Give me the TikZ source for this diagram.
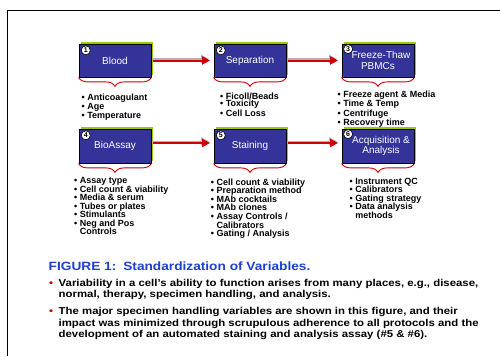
\documentclass[tikz,border=0pt]{standalone}
\usepackage{fontspec}
\setmainfont{Liberation Sans}
\newfontfamily\capfont[FakeStretch=1.14]{Liberation Sans}
\usetikzlibrary{arrows.meta,decorations.pathreplacing,shadows}
\definecolor{boxblue}{HTML}{333399}
\definecolor{limeshadow}{HTML}{99CC00}
\definecolor{arrred}{HTML}{D00000}
\definecolor{capblue}{HTML}{1F3FCF}
\tikzset{
  stagebox/.style={draw=black, line width=0.8pt, fill=boxblue, text=white,
    minimum width=72pt, minimum height=33pt, inner sep=0pt, align=center,
    font=\fontsize{10}{10.5}\selectfont,
    general shadow={fill=limeshadow, draw=none, shadow xshift=1.6pt, shadow yshift=1.6pt}},
  numcirc/.style={circle, draw=black, fill=white, line width=0.6pt, minimum size=9pt,
    inner sep=0pt, font=\bfseries\fontsize{7}{7}\selectfont},
  flow/.style={draw=arrred, line width=2pt, -{Triangle[length=8pt,width=8pt]}},
  flowshadow/.style={draw=gray!60, line width=2pt, -{Triangle[length=8pt,width=8pt]}},
  stagebrace/.style={draw=arrred, line width=0.9pt, decorate, decoration={brace, amplitude=9pt}},
  blist/.style={anchor=north west, inner sep=0pt, align=left, font=\bfseries\fontsize{9}{#1}\selectfont},
}
\newcommand{\bu}{\textbullet\hspace{2.5pt}}
\newcommand{\nb}{\phantom{\textbullet}\hspace{2.5pt}}
\begin{document}
\begin{tikzpicture}[x=1pt,y=-1pt]
\useasboundingbox (0,0) rectangle (500,356);
\fill[white] (0,0) rectangle (500,356);
% frame
\draw[line width=1pt] (500,10) -- (7,10) -- (7,356);
% boxes
\node[stagebox] (b1) at (115,60.5) {Blood};
\node[stagebox] (b2) at (250,60.5) {Separation};
\node[stagebox] (b3) at (378,60.5) {\hspace{6pt}Freeze-Thaw\\PBMCs};
\node[stagebox, minimum height=34pt] (b4) at (115,146) {BioAssay};
\node[stagebox, minimum height=34pt] (b5) at (250,146) {Staining};
\node[stagebox, minimum height=34pt] (b6) at (378,146) {\hspace{6pt}Acquisition \&\\\hspace{6pt}Analysis};
% number circles
\node[numcirc] (n1) at ([xshift=7.2pt,yshift=-6.7pt]b1.north west) {1};
\node[numcirc] (n2) at ([xshift=7.2pt,yshift=-6.7pt]b2.north west) {2};
\node[numcirc] (n3) at ([xshift=6.5pt,yshift=-5.5pt]b3.north west) {3};
\node[numcirc] (n4) at ([xshift=7.2pt,yshift=-6.7pt]b4.north west) {4};
\node[numcirc] (n5) at ([xshift=7.2pt,yshift=-6.7pt]b5.north west) {5};
\node[numcirc] (n6) at ([xshift=6.5pt,yshift=-5.5pt]b6.north west) {6};
% arrows
\foreach \a/\b/\s in {b1/b2/0, b2/b3/0, b4/b5/3, b5/b6/3}{
  \draw[flowshadow] ([xshift=1pt,yshift=\s pt+1.5pt]\a.east) -- ([xshift=-4.5pt,yshift=\s pt+1.5pt]\b.west);
  \draw[flow] ([xshift=1.6pt,yshift=\s pt]\a.east) -- ([xshift=-3.5pt,yshift=\s pt]\b.west);
}
% braces
\foreach \b in {b1,b2,b3,b4,b5,b6}{
  \draw[stagebrace] (\b.south east) -- (\b.south west);
}
% lists
\node[blist=7.2] (l1) at (81.5,93.6) {\bu Anticoagulant\\\bu Age\\\bu Temperature};
\node[blist=7.6] (l2) at (220,92.3) {\bu Ficoll/Beads\\\bu Toxicity\\\bu Cell Loss};
\node[blist=8] (l3) at (337.5,90.6) {\bu Freeze agent \& Media\\\bu Time \& Temp\\\bu Centrifuge\\\bu Recovery time};
\node[blist=8.5] (l4) at (74,177.6) {\bu Assay type\\\bu Cell count \& viability\\\bu Media \& serum\\\bu Tubes or plates\\\bu Stimulants\\\bu Neg and Pos\\\nb Controls};
\node[blist=8.6] (l5) at (210.7,178.3) {\bu Cell count \& viability\\\bu Preparation method\\\bu MAb cocktails\\\bu MAb clones\\\bu Assay Controls /\\\nb Calibrators\\\bu Gating / Analysis};
\node[blist=8.6] (l6) at (349.5,177.6) {\bu Instrument QC\\\bu Calibrators\\\bu Gating strategy\\\bu Data analysis\\\nb methods};
% caption
\node[anchor=west, inner sep=0pt, text=capblue, font=\capfont\bfseries\fontsize{12}{14}\selectfont] (title) at (48.5,266.7)
  {FIGURE 1:\hspace{7pt}Standardization of Variables.};
\node[anchor=north west, inner sep=0pt, font=\capfont\bfseries\fontsize{10}{11.3}\selectfont] (body) at (49,278)
  {\begin{tabular}{@{}l@{\hspace{5.5pt}}l@{}}
   \textcolor{arrred}{\textbullet} & Variability in a cell’s ability to function arises from many places, e.g., disease,\\
   & normal, therapy, specimen handling, and analysis.\\[6.2pt]
   \textcolor{arrred}{\textbullet} & The major specimen handling variables are shown in this figure, and their\\
   & impact was minimized through scrupulous adherence to all protocols and the\\
   & development of an automated staining and analysis assay (\#5 \& \#6).
  \end{tabular}};
\end{tikzpicture}
\end{document}
